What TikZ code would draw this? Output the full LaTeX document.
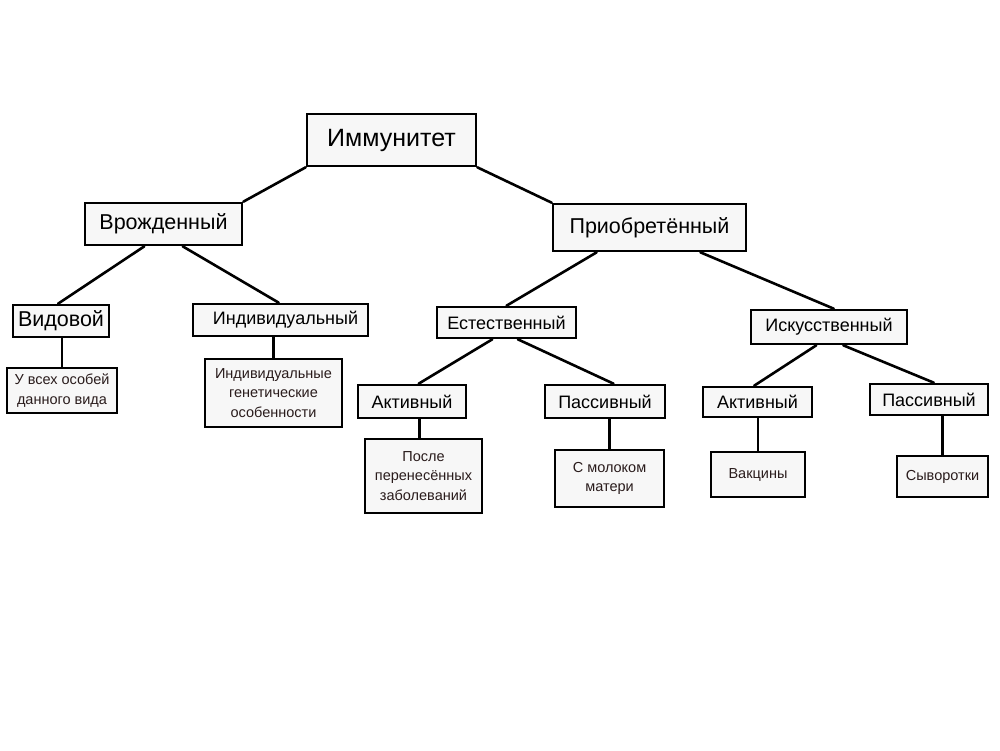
\documentclass[tikz,border=0pt]{standalone}
\usepackage{fontspec}
\setmainfont{Liberation Sans}
\usetikzlibrary{calc}
\definecolor{boxfill}{RGB}{247,247,247}
\definecolor{leaftext}{RGB}{42,28,28}
\tikzset{
  box/.style={draw=black, line width=2.6pt, fill=boxfill, rectangle, inner sep=0pt, align=center, text=black},
  top/.style={box, font=\fontsize{25}{30}\selectfont},
  lvtwo/.style={box, font=\fontsize{21.5}{26}\selectfont},
  lvthree/.style={box, font=\fontsize{18}{22}\selectfont},
  leaf/.style={box, text=leaftext, font=\fontsize{14.5}{19.5}\selectfont},
  conn/.style={line width=2.6pt, line cap=round}
}
\begin{document}
\begin{tikzpicture}[x=1pt,y=-1pt]
\useasboundingbox[fill=white] (0,0) rectangle (1000,750);
% level 0
\node[top, minimum width=169pt, minimum height=52pt] (imm) at (391.5,140) {Иммунитет};
% level 1
\node[lvtwo, minimum width=157pt, minimum height=42pt] (vro) at (163.5,224) {Врожденный};
\node[lvtwo, minimum width=193pt, minimum height=47pt] (pri) at (649.5,227.5) {Приобретённый};
% level 2
\node[lvtwo, minimum width=96pt, minimum height=32pt] (vid) at (61,321) {Видовой};
\node[lvthree, minimum width=175pt, minimum height=32pt] (ind) at (280.5,320) {\hspace*{10pt}Индивидуальный};
\node[lvthree, minimum width=139pt, minimum height=31pt] (est) at (506.5,322.5) {Естественный};
\node[lvthree, minimum width=156pt, minimum height=34pt] (isk) at (829,327) {Искусственный};
% level 3
\node[leaf, minimum width=110pt, minimum height=45pt] (uvs) at (62,390.5) {У всех особей\\данного вида};
\node[leaf, minimum width=137pt, minimum height=68pt] (igo) at (273.5,393) {Индивидуальные\\генетические\\особенности};
\node[lvthree, minimum width=108pt, minimum height=33pt] (akta) at (412,401.5) {Активный};
\node[lvthree, minimum width=120pt, minimum height=33pt] (pasa) at (605,401.5) {Пассивный};
\node[lvthree, minimum width=109pt, minimum height=30pt] (aktb) at (757.5,402) {Активный};
\node[lvthree, minimum width=118pt, minimum height=31pt] (pasb) at (929,399.5) {Пассивный};
% level 4
\node[leaf, minimum width=117pt, minimum height=74pt] (pos) at (423.5,476) {После\\перенесённых\\заболеваний};
\node[leaf, minimum width=109pt, minimum height=57pt] (mol) at (609.5,478.5) {С молоком\\матери};
\node[leaf, minimum width=94pt, minimum height=45pt] (vak) at (758,474.5) {Вакцины};
\node[leaf, minimum width=91pt, minimum height=41pt] (syv) at (942.5,476.5) {Сыворотки};
% connectors
\draw[conn] (imm.south west) -- (vro.north east);
\draw[conn] (imm.south east) -- (pri.north west);
\draw[conn] ($(vro.south west)!0.38!(vro.south east)$) -- ($(vid.north west)!0.47!(vid.north east)$);
\draw[conn] ($(vro.south west)!0.62!(vro.south east)$) -- ($(ind.north west)!0.49!(ind.north east)$);
\draw[conn] (uvs.north) -- (uvs.north |- vid.south);
\draw[conn] (igo.north) -- (igo.north |- ind.south);
\draw[conn] ($(pri.south west)!0.23!(pri.south east)$) -- (est.north);
\draw[conn] ($(pri.south west)!0.76!(pri.south east)$) -- ($(isk.north west)!0.53!(isk.north east)$);
\draw[conn] ($(est.south west)!0.40!(est.south east)$) -- ($(akta.north west)!0.56!(akta.north east)$);
\draw[conn] ($(est.south west)!0.58!(est.south east)$) -- ($(pasa.north west)!0.57!(pasa.north east)$);
\draw[conn] ($(isk.south west)!0.42!(isk.south east)$) -- ($(aktb.north west)!0.47!(aktb.north east)$);
\draw[conn] ($(isk.south west)!0.59!(isk.south east)$) -- ($(pasb.north west)!0.54!(pasb.north east)$);
\draw[conn] ($(akta.south west)!0.57!(akta.south east)$) coordinate (aktafoot) -- (aktafoot |- pos.north);
\draw[conn] (mol.north) -- (mol.north |- pasa.south);
\draw[conn] (vak.north) -- (vak.north |- aktb.south);
\draw[conn] (syv.north) -- (syv.north |- pasb.south);
\end{tikzpicture}
\end{document}
